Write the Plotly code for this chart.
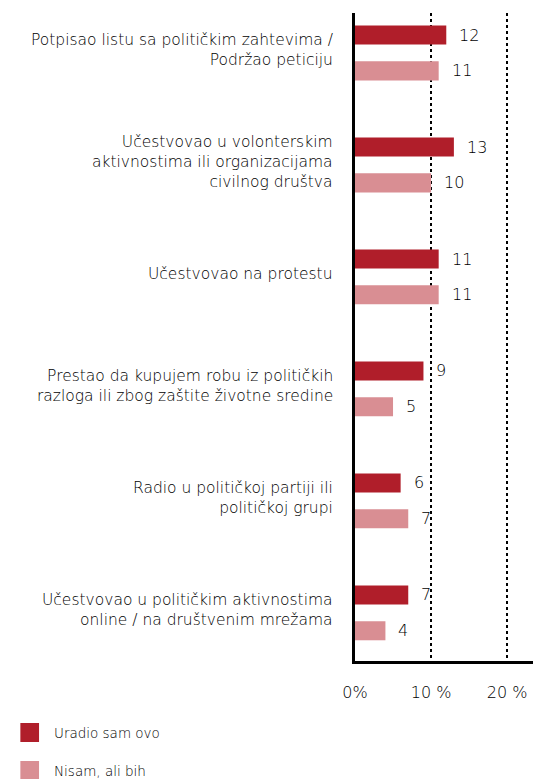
import plotly.graph_objects as go

# Survey categories (top to bottom) and percentages for both answers
categories = [
    "Potpisao listu sa političkim zahtevima /<br>Podržao peticiju",
    "Učestvovao u volonterskim<br>aktivnostima ili organizacijama<br>civilnog društva",
    "Učestvovao na protestu",
    "Prestao da kupujem robu iz političkih<br>razloga ili zbog zaštite životne sredine",
    "Radio u političkoj partiji ili<br>političkoj grupi",
    "Učestvovao u političkim aktivnostima<br>online / na društvenim mrežama",
]
did_it = [12, 13, 11, 9, 6, 7]
would_do = [11, 10, 11, 5, 7, 4]
series_names = ["Uradio sam ovo", "Nisam, ali bih"]
tick_vals = [0, 10, 20]
tick_text = ["0%", "10 %", "20 %"]

DARK = "#B01E2A"
LIGHT = "#D98E93"
TEXT = "#000000"
FONT = "DejaVu Sans"
W = 300  # light weight

fig = go.Figure()
bar_w = 0.17
for vals, name, color, off in [
    (did_it, series_names[0], DARK, -0.245),
    (would_do, series_names[1], LIGHT, 0.075),
]:
    fig.add_trace(go.Bar(
        y=categories, x=vals, orientation="h", name=name,
        marker=dict(color=color, line=dict(width=0)),
        width=bar_w, offset=off, showlegend=False,
    ))
    for cat_i, v in enumerate(vals):
        fig.add_annotation(
            x=v, y=cat_i + off + bar_w / 2, xref="x", yref="y",
            text=str(v), showarrow=False, xanchor="left", xshift=11,
            font=dict(family=FONT, size=16, color=TEXT, weight=W),
        )

# Category labels, right-aligned next to the axis
for cat_i, cat in enumerate(categories):
    fig.add_annotation(
        xref="paper", yref="y", x=0, y=cat_i,
        text=cat, showarrow=False, xanchor="right", yanchor="middle", align="right",
        xshift=-20, yshift=3,
        font=dict(family=FONT, size=15.5, color=TEXT, weight=W),
    )

# Custom legend with large square swatches
for i, (name, color) in enumerate(zip(series_names, [DARK, LIGHT])):
    y0 = -62 - i * 38
    fig.add_shape(type="rect", xref="paper", yref="paper",
                  x0=-1.88, x1=-1.775, y0=(y0 - 19) / 648, y1=y0 / 648,
                  line=dict(width=0), fillcolor=color)
    fig.add_annotation(xref="paper", yref="paper", x=-1.70, y=(y0 - 9.5) / 648,
                       text=name, showarrow=False, xanchor="left", yanchor="middle",
                       font=dict(family=FONT, size=13.5, color=TEXT, weight=W))

fig.update_layout(
    width=533, height=779,
    margin=dict(l=355, r=0, t=13, b=118),
    paper_bgcolor="white", plot_bgcolor="white",
    font=dict(family=FONT, color=TEXT),
    showlegend=False,
    xaxis=dict(
        range=[0, 23.4], tickvals=tick_vals, ticktext=tick_text,
        showgrid=True, gridcolor="black", griddash="dot", gridwidth=1.5,
        zeroline=False, showline=True, linecolor="black", linewidth=2.5,
        ticks="", ticklabelstandoff=15,
        tickfont=dict(family=FONT, size=16, color=TEXT, weight=W),
        fixedrange=True,
    ),
    yaxis=dict(
        type="category", range=[5.43, -0.357],
        showgrid=False, zeroline=False, showline=True,
        linecolor="black", linewidth=2.5, ticks="",
        showticklabels=False,
        fixedrange=True,
    ),
)

fig.write_html("out.html")
